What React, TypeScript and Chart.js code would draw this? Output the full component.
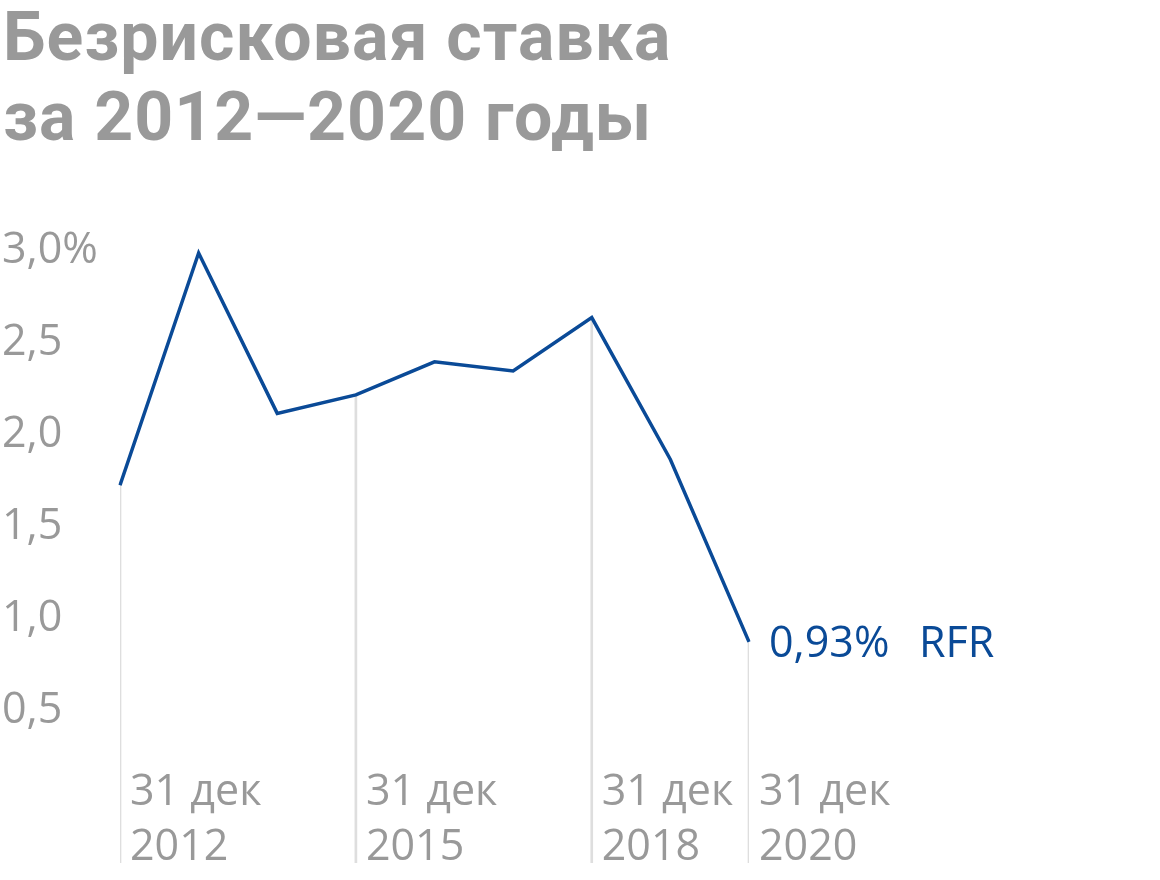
import React, { useEffect, useRef } from "react";
import { Chart, registerables } from "chart.js";

Chart.register(...registerables);

const TITLE_LINES = ["Безрисковая ставка", "за 2012—2020 годы"];
const years = ["2012", "2013", "2014", "2015", "2016", "2017", "2018", "2019", "2020"];
const rates = [1.78, 3.04, 2.17, 2.27, 2.45, 2.4, 2.69, 1.92, 0.93];
const labelledYears = ["2012", "2015", "2018", "2020"];
const dateLabelPrefix = "31 дек";
const yTicks = [0.5, 1, 1.5, 2, 2.5, 3];
const yMin = -0.27;
const yMax = 3.1;
const seriesName = "RFR";

const BLUE = "#0a4a97";
const GRAY = "#999999";
const DROP = "#dedede";
const FONT = "'Open Sans', sans-serif";

const fmt = (v: number) => v.toFixed(1).replace(".", ",");

export default function App() {
  const ref = useRef<HTMLCanvasElement | null>(null);

  useEffect(() => {
    if (!ref.current) return;
    const dropData = years.map((y, i) =>
      labelledYears.includes(y) ? [yMin, rates[i]] : null
    );

    const annotate = {
      id: "annotate",
      afterDatasetsDraw(chart: any) {
        const ctx = chart.ctx;
        const meta = chart.getDatasetMeta(1);
        const last = meta.data[meta.data.length - 1];
        ctx.save();
        if (last) {
          ctx.fillStyle = BLUE;
          ctx.font = `43px ${FONT}`;
          ctx.textAlign = "left";
          ctx.textBaseline = "alphabetic";
          const v = rates[rates.length - 1];
          ctx.fillText(v.toFixed(2).replace(".", ",") + "%", last.x + 20, last.y + 15);
          ctx.fillText(seriesName, last.x + 170, last.y + 15);
        }
        // x-axis date labels, placed next to drop lines via the category scale
        const xs = chart.scales.x;
        const bottom = chart.chartArea.bottom;
        ctx.fillStyle = GRAY;
        ctx.font = `43px ${FONT}`;
        ctx.textAlign = "left";
        ctx.textBaseline = "alphabetic";
        years.forEach((y, i) => {
          if (!labelledYears.includes(y)) return;
          const px = xs.getPixelForValue(i) + 10;
          ctx.fillText(dateLabelPrefix, px, bottom - 58);
          ctx.fillText(y, px, bottom - 3);
        });
        ctx.restore();
      },
    };

    const chart = new Chart(ref.current, {
      type: "line",
      data: {
        labels: years,
        datasets: [
          {
            type: "bar",
            data: dropData as any,
            backgroundColor: DROP,
            barThickness: 2,
            order: 2,
          } as any,
          {
            type: "line",
            data: rates,
            borderColor: BLUE,
            borderWidth: 3.5,
            borderJoinStyle: "miter",
            tension: 0,
            pointRadius: 0,
            fill: false,
            order: 1,
          },
        ],
      },
      options: {
        animation: false,
        responsive: false,
        layout: { padding: { left: 2, right: 411, top: 242, bottom: 17 } },
        plugins: {
          legend: { display: false },
          tooltip: { enabled: false },
          title: { display: false },
        },
        scales: {
          x: {
            type: "category",
            offset: false,
            grid: { display: false, drawTicks: false, offset: false },
            border: { display: false },
            ticks: { display: false },
            afterFit: (s: any) => {
              s.height = 0;
              s.paddingLeft = 0;
              s.paddingRight = 0;
            },
          },
          y: {
            min: yMin,
            max: yMax,
            grid: { display: false, drawTicks: false },
            border: { display: false },
            afterBuildTicks: (s: any) => {
              s.ticks = yTicks.map((v) => ({ value: v }));
            },
            ticks: {
              crossAlign: "far",
              padding: 0,
              labelOffset: -10,
              color: GRAY,
              font: { family: FONT, size: 43 },
              callback: (v: any) => (v === 3 ? fmt(v) + "%" : fmt(v)),
            },
            afterFit: (s: any) => {
              s.width = 118;
              s.paddingTop = 0;
              s.paddingBottom = 0;
            },
          },
        },
      },
      plugins: [annotate],
    });
    return () => chart.destroy();
  }, []);

  return (
    <div
      style={{
        position: "fixed",
        left: 0,
        top: 0,
        width: 1160,
        height: 880,
        background: "#fff",
        overflow: "hidden",
      }}
    >
      <div
        style={{
          position: "absolute",
          left: 3,
          top: -3,
          fontFamily: "Roboto, sans-serif",
          fontWeight: 700,
          fontSize: 68,
          lineHeight: "80px",
          letterSpacing: "1px",
          color: GRAY,
          whiteSpace: "nowrap",
        }}
      >
        {TITLE_LINES.map((t) => (
          <div key={t}>{t}</div>
        ))}
      </div>
      <canvas ref={ref} width={1160} height={880} style={{ position: "absolute", left: 0, top: 0 }} />
    </div>
  );
}
